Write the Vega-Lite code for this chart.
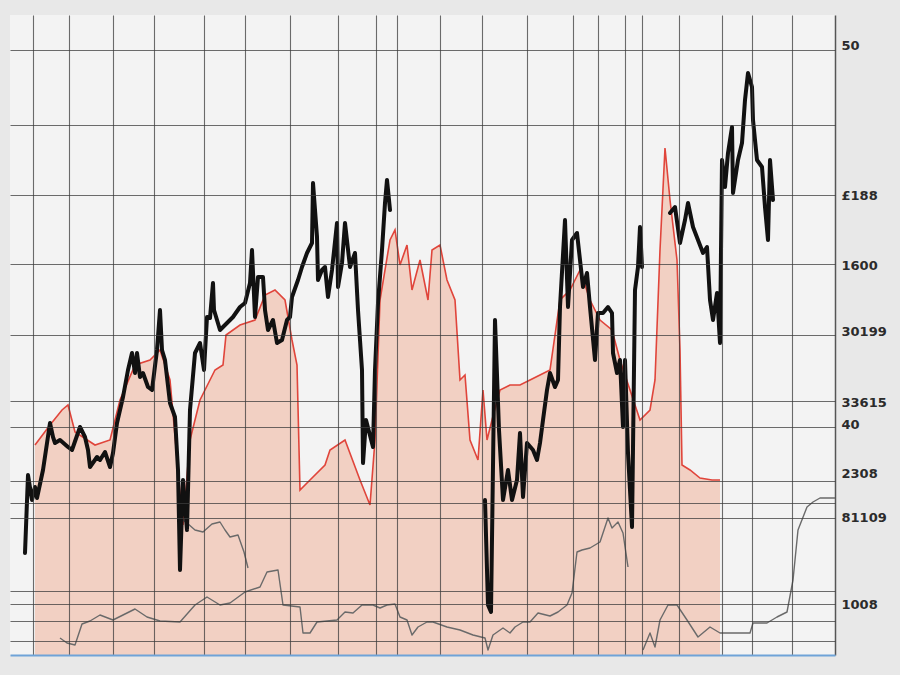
{
  "$schema": "https://vega.github.io/schema/vega-lite/v6.json",
  "width": 825,
  "height": 640,
  "autosize": "none",
  "padding": {"left": 10, "top": 15, "right": 65, "bottom": 20},
  "background": "#e8e8e8",
  "config": {"view": {"fill": "#f3f3f3", "stroke": null}},
  "datasets": {
    "red": [
      {"x": 25, "y": 210}, {"x": 40, "y": 230}, {"x": 52, "y": 245}, {"x": 58, "y": 250}, {"x": 65, "y": 223},
      {"x": 85, "y": 210}, {"x": 100, "y": 215}, {"x": 110, "y": 255}, {"x": 125, "y": 290}, {"x": 140, "y": 295},
      {"x": 150, "y": 305}, {"x": 160, "y": 275}, {"x": 168, "y": 185}, {"x": 173, "y": 130}, {"x": 180, "y": 215},
      {"x": 190, "y": 255}, {"x": 205, "y": 285}, {"x": 213, "y": 290}, {"x": 216, "y": 320}, {"x": 230, "y": 330},
      {"x": 245, "y": 335}, {"x": 255, "y": 360}, {"x": 265, "y": 365}, {"x": 275, "y": 355}, {"x": 282, "y": 315},
      {"x": 287, "y": 290}, {"x": 290, "y": 165}, {"x": 300, "y": 175}, {"x": 315, "y": 190}, {"x": 320, "y": 205},
      {"x": 335, "y": 215}, {"x": 350, "y": 175}, {"x": 360, "y": 150}, {"x": 365, "y": 215}, {"x": 370, "y": 355},
      {"x": 380, "y": 415}, {"x": 385, "y": 425}, {"x": 390, "y": 390}, {"x": 397, "y": 410}, {"x": 402, "y": 365},
      {"x": 410, "y": 395}, {"x": 418, "y": 355}, {"x": 422, "y": 405}, {"x": 430, "y": 410}, {"x": 437, "y": 375},
      {"x": 445, "y": 355}, {"x": 450, "y": 275}, {"x": 455, "y": 280}, {"x": 460, "y": 215}, {"x": 468, "y": 195},
      {"x": 473, "y": 265}, {"x": 477, "y": 215}, {"x": 482, "y": 235}, {"x": 490, "y": 265}, {"x": 500, "y": 270},
      {"x": 510, "y": 270}, {"x": 520, "y": 275}, {"x": 530, "y": 280}, {"x": 540, "y": 285}, {"x": 550, "y": 355},
      {"x": 560, "y": 365}, {"x": 570, "y": 385}, {"x": 580, "y": 355}, {"x": 590, "y": 335}, {"x": 602, "y": 325},
      {"x": 610, "y": 295}, {"x": 620, "y": 265}, {"x": 630, "y": 235}, {"x": 640, "y": 245}, {"x": 645, "y": 275},
      {"x": 650, "y": 405}, {"x": 655, "y": 507}, {"x": 660, "y": 455}, {"x": 667, "y": 395}, {"x": 670, "y": 305},
      {"x": 672, "y": 190}, {"x": 680, "y": 185}, {"x": 690, "y": 177}, {"x": 702, "y": 175}, {"x": 710, "y": 175}
    ],
    "gray": [
      {"seg": "a", "x": 50, "y": 17}, {"seg": "a", "x": 57, "y": 12}, {"seg": "a", "x": 65, "y": 10}, {"seg": "a", "x": 72, "y": 31},
      {"seg": "a", "x": 80, "y": 34}, {"seg": "a", "x": 90, "y": 40}, {"seg": "a", "x": 103, "y": 35}, {"seg": "a", "x": 117, "y": 42},
      {"seg": "a", "x": 125, "y": 46}, {"seg": "a", "x": 137, "y": 38}, {"seg": "a", "x": 150, "y": 34}, {"seg": "a", "x": 170, "y": 33},
      {"seg": "a", "x": 185, "y": 50}, {"seg": "a", "x": 197, "y": 58}, {"seg": "a", "x": 210, "y": 50}, {"seg": "a", "x": 220, "y": 52},
      {"seg": "a", "x": 235, "y": 63}, {"seg": "a", "x": 250, "y": 68}, {"seg": "a", "x": 257, "y": 83}, {"seg": "a", "x": 268, "y": 85},
      {"seg": "a", "x": 273, "y": 50}, {"seg": "a", "x": 290, "y": 48}, {"seg": "a", "x": 293, "y": 22}, {"seg": "a", "x": 300, "y": 22},
      {"seg": "a", "x": 307, "y": 33}, {"seg": "a", "x": 327, "y": 35}, {"seg": "a", "x": 335, "y": 43}, {"seg": "a", "x": 343, "y": 42},
      {"seg": "a", "x": 352, "y": 50}, {"seg": "a", "x": 363, "y": 50}, {"seg": "a", "x": 370, "y": 47}, {"seg": "a", "x": 377, "y": 50},
      {"seg": "a", "x": 385, "y": 51}, {"seg": "a", "x": 390, "y": 38}, {"seg": "a", "x": 397, "y": 35}, {"seg": "a", "x": 402, "y": 20},
      {"seg": "a", "x": 408, "y": 28}, {"seg": "a", "x": 417, "y": 33}, {"seg": "a", "x": 423, "y": 33}, {"seg": "a", "x": 437, "y": 28},
      {"seg": "a", "x": 450, "y": 25}, {"seg": "a", "x": 463, "y": 20}, {"seg": "a", "x": 475, "y": 17}, {"seg": "a", "x": 478, "y": 5},
      {"seg": "a", "x": 483, "y": 20}, {"seg": "a", "x": 493, "y": 27}, {"seg": "a", "x": 500, "y": 22}, {"seg": "a", "x": 505, "y": 28},
      {"seg": "a", "x": 513, "y": 33}, {"seg": "a", "x": 520, "y": 33}, {"seg": "a", "x": 528, "y": 42}, {"seg": "a", "x": 540, "y": 39},
      {"seg": "a", "x": 548, "y": 43}, {"seg": "a", "x": 557, "y": 50}, {"seg": "a", "x": 562, "y": 62}, {"seg": "a", "x": 567, "y": 103},
      {"seg": "a", "x": 572, "y": 105}, {"seg": "a", "x": 580, "y": 107}, {"seg": "a", "x": 590, "y": 113}, {"seg": "a", "x": 598, "y": 137},
      {"seg": "a", "x": 602, "y": 127}, {"seg": "a", "x": 608, "y": 133}, {"seg": "a", "x": 613, "y": 122}, {"seg": "a", "x": 618, "y": 88},
      {"seg": "b", "x": 173, "y": 135}, {"seg": "b", "x": 177, "y": 132}, {"seg": "b", "x": 185, "y": 125}, {"seg": "b", "x": 193, "y": 123},
      {"seg": "b", "x": 202, "y": 131}, {"seg": "b", "x": 210, "y": 133}, {"seg": "b", "x": 215, "y": 125}, {"seg": "b", "x": 220, "y": 118},
      {"seg": "b", "x": 228, "y": 120}, {"seg": "b", "x": 234, "y": 103}, {"seg": "b", "x": 238, "y": 87},
      {"seg": "c", "x": 633, "y": 5}, {"seg": "c", "x": 640, "y": 22}, {"seg": "c", "x": 645, "y": 8}, {"seg": "c", "x": 650, "y": 35},
      {"seg": "c", "x": 658, "y": 50}, {"seg": "c", "x": 667, "y": 50}, {"seg": "c", "x": 677, "y": 35}, {"seg": "c", "x": 688, "y": 18},
      {"seg": "c", "x": 700, "y": 28}, {"seg": "c", "x": 710, "y": 22}, {"seg": "c", "x": 730, "y": 22}, {"seg": "c", "x": 740, "y": 22},
      {"seg": "c", "x": 743, "y": 32}, {"seg": "c", "x": 757, "y": 32}, {"seg": "c", "x": 767, "y": 38}, {"seg": "c", "x": 777, "y": 43},
      {"seg": "c", "x": 783, "y": 75}, {"seg": "c", "x": 788, "y": 125}, {"seg": "c", "x": 797, "y": 148}, {"seg": "c", "x": 803, "y": 153},
      {"seg": "c", "x": 810, "y": 157}, {"seg": "c", "x": 825, "y": 157}
    ],
    "black": [
      {"seg": 1, "x": 15, "y": 102}, {"seg": 1, "x": 18, "y": 180}, {"seg": 1, "x": 22, "y": 155}, {"seg": 1, "x": 25, "y": 168},
      {"seg": 1, "x": 27, "y": 157}, {"seg": 1, "x": 33, "y": 185}, {"seg": 1, "x": 40, "y": 232}, {"seg": 1, "x": 43, "y": 218},
      {"seg": 1, "x": 45, "y": 212}, {"seg": 1, "x": 50, "y": 215}, {"seg": 1, "x": 58, "y": 208}, {"seg": 1, "x": 62, "y": 205},
      {"seg": 1, "x": 70, "y": 228}, {"seg": 1, "x": 75, "y": 218}, {"seg": 1, "x": 78, "y": 205}, {"seg": 1, "x": 80, "y": 188},
      {"seg": 1, "x": 87, "y": 198}, {"seg": 1, "x": 90, "y": 195}, {"seg": 1, "x": 95, "y": 203}, {"seg": 1, "x": 100, "y": 188},
      {"seg": 1, "x": 103, "y": 202}, {"seg": 1, "x": 107, "y": 232}, {"seg": 1, "x": 113, "y": 258}, {"seg": 1, "x": 118, "y": 285},
      {"seg": 1, "x": 122, "y": 302}, {"seg": 1, "x": 125, "y": 282}, {"seg": 1, "x": 127, "y": 302}, {"seg": 1, "x": 130, "y": 278},
      {"seg": 1, "x": 133, "y": 282}, {"seg": 1, "x": 138, "y": 268}, {"seg": 1, "x": 142, "y": 265}, {"seg": 1, "x": 147, "y": 305},
      {"seg": 1, "x": 150, "y": 345}, {"seg": 1, "x": 152, "y": 305}, {"seg": 1, "x": 155, "y": 295}, {"seg": 1, "x": 160, "y": 252},
      {"seg": 1, "x": 165, "y": 238}, {"seg": 1, "x": 168, "y": 185}, {"seg": 1, "x": 170, "y": 85}, {"seg": 1, "x": 173, "y": 175},
      {"seg": 1, "x": 177, "y": 125}, {"seg": 1, "x": 180, "y": 245}, {"seg": 1, "x": 185, "y": 302}, {"seg": 1, "x": 190, "y": 312},
      {"seg": 1, "x": 194, "y": 285}, {"seg": 1, "x": 197, "y": 338}, {"seg": 1, "x": 200, "y": 337}, {"seg": 1, "x": 203, "y": 372},
      {"seg": 1, "x": 204, "y": 345}, {"seg": 1, "x": 210, "y": 325}, {"seg": 1, "x": 217, "y": 332}, {"seg": 1, "x": 223, "y": 338},
      {"seg": 1, "x": 230, "y": 348}, {"seg": 1, "x": 235, "y": 352}, {"seg": 1, "x": 240, "y": 372}, {"seg": 1, "x": 242, "y": 405},
      {"seg": 1, "x": 245, "y": 338}, {"seg": 1, "x": 248, "y": 378}, {"seg": 1, "x": 253, "y": 378}, {"seg": 1, "x": 255, "y": 345},
      {"seg": 1, "x": 258, "y": 325}, {"seg": 1, "x": 263, "y": 335}, {"seg": 1, "x": 267, "y": 312}, {"seg": 1, "x": 272, "y": 315},
      {"seg": 1, "x": 277, "y": 335}, {"seg": 1, "x": 280, "y": 338}, {"seg": 1, "x": 282, "y": 358}, {"seg": 1, "x": 288, "y": 375},
      {"seg": 1, "x": 292, "y": 388}, {"seg": 1, "x": 297, "y": 402}, {"seg": 1, "x": 302, "y": 412}, {"seg": 1, "x": 303, "y": 472},
      {"seg": 1, "x": 307, "y": 418}, {"seg": 1, "x": 308, "y": 375}, {"seg": 1, "x": 312, "y": 385}, {"seg": 1, "x": 315, "y": 388},
      {"seg": 1, "x": 318, "y": 358}, {"seg": 1, "x": 322, "y": 385}, {"seg": 1, "x": 327, "y": 432}, {"seg": 1, "x": 328, "y": 368},
      {"seg": 1, "x": 332, "y": 392}, {"seg": 1, "x": 335, "y": 432}, {"seg": 1, "x": 340, "y": 388}, {"seg": 1, "x": 345, "y": 402},
      {"seg": 1, "x": 348, "y": 345}, {"seg": 1, "x": 352, "y": 285}, {"seg": 1, "x": 353, "y": 192}, {"seg": 1, "x": 356, "y": 235},
      {"seg": 1, "x": 363, "y": 208}, {"seg": 1, "x": 365, "y": 285}, {"seg": 1, "x": 368, "y": 352}, {"seg": 1, "x": 372, "y": 405},
      {"seg": 1, "x": 375, "y": 452}, {"seg": 1, "x": 377, "y": 475}, {"seg": 1, "x": 380, "y": 445},
      {"seg": 2, "x": 475, "y": 155}, {"seg": 2, "x": 478, "y": 50}, {"seg": 2, "x": 481, "y": 43}, {"seg": 2, "x": 485, "y": 335},
      {"seg": 2, "x": 489, "y": 225}, {"seg": 2, "x": 493, "y": 155}, {"seg": 2, "x": 498, "y": 185}, {"seg": 2, "x": 502, "y": 155},
      {"seg": 2, "x": 507, "y": 175}, {"seg": 2, "x": 510, "y": 222}, {"seg": 2, "x": 513, "y": 158}, {"seg": 2, "x": 517, "y": 212},
      {"seg": 2, "x": 523, "y": 205}, {"seg": 2, "x": 527, "y": 195}, {"seg": 2, "x": 530, "y": 212}, {"seg": 2, "x": 533, "y": 235},
      {"seg": 2, "x": 537, "y": 265}, {"seg": 2, "x": 540, "y": 282}, {"seg": 2, "x": 545, "y": 268}, {"seg": 2, "x": 548, "y": 275},
      {"seg": 2, "x": 550, "y": 348}, {"seg": 2, "x": 555, "y": 435}, {"seg": 2, "x": 558, "y": 348}, {"seg": 2, "x": 562, "y": 415},
      {"seg": 2, "x": 567, "y": 422}, {"seg": 2, "x": 570, "y": 395}, {"seg": 2, "x": 573, "y": 368}, {"seg": 2, "x": 577, "y": 382},
      {"seg": 2, "x": 580, "y": 348}, {"seg": 2, "x": 585, "y": 295}, {"seg": 2, "x": 588, "y": 342}, {"seg": 2, "x": 593, "y": 342},
      {"seg": 2, "x": 598, "y": 348}, {"seg": 2, "x": 602, "y": 342}, {"seg": 2, "x": 603, "y": 302}, {"seg": 2, "x": 607, "y": 282},
      {"seg": 2, "x": 610, "y": 295}, {"seg": 2, "x": 613, "y": 228}, {"seg": 2, "x": 615, "y": 295}, {"seg": 2, "x": 618, "y": 202},
      {"seg": 2, "x": 622, "y": 128}, {"seg": 2, "x": 625, "y": 365}, {"seg": 2, "x": 628, "y": 388}, {"seg": 2, "x": 630, "y": 428},
      {"seg": 2, "x": 632, "y": 388},
      {"seg": 3, "x": 660, "y": 442}, {"seg": 3, "x": 665, "y": 448}, {"seg": 3, "x": 670, "y": 412}, {"seg": 3, "x": 675, "y": 435},
      {"seg": 3, "x": 678, "y": 452}, {"seg": 3, "x": 683, "y": 428}, {"seg": 3, "x": 688, "y": 415}, {"seg": 3, "x": 693, "y": 402},
      {"seg": 3, "x": 697, "y": 408}, {"seg": 3, "x": 700, "y": 355}, {"seg": 3, "x": 703, "y": 335}, {"seg": 3, "x": 707, "y": 362},
      {"seg": 3, "x": 710, "y": 312}, {"seg": 3, "x": 712, "y": 495}, {"seg": 3, "x": 715, "y": 468}, {"seg": 3, "x": 718, "y": 502},
      {"seg": 3, "x": 722, "y": 528}, {"seg": 3, "x": 723, "y": 462}, {"seg": 3, "x": 728, "y": 495}, {"seg": 3, "x": 732, "y": 512},
      {"seg": 3, "x": 735, "y": 555}, {"seg": 3, "x": 738, "y": 582}, {"seg": 3, "x": 742, "y": 568}, {"seg": 3, "x": 743, "y": 535},
      {"seg": 3, "x": 747, "y": 495}, {"seg": 3, "x": 752, "y": 488}, {"seg": 3, "x": 755, "y": 448}, {"seg": 3, "x": 758, "y": 415},
      {"seg": 3, "x": 760, "y": 495}, {"seg": 3, "x": 762, "y": 468}, {"seg": 3, "x": 763, "y": 455}
    ]
  },
  "resolve": {"axis": {"y": "independent"}},
  "layer": [
    {
      "data": {"name": "red"},
      "mark": {"type": "area", "fill": "#f0b29a", "fillOpacity": 0.55, "line": {"color": "#e0453b", "strokeWidth": 1.6}},
      "encoding": {
        "x": {"field": "x", "type": "quantitative", "scale": {"domain": [0, 825], "nice": false, "zero": false},
          "axis": {"orient": "bottom", "values": [23, 40, 59, 79, 103, 126, 144, 169, 194, 214, 235, 256, 280, 302, 328, 348, 366, 377, 387, 409, 430, 452, 472, 497, 517, 538, 563, 572, 588, 608, 615, 623, 632, 658, 669, 688, 712, 722, 742, 762, 782, 803],
            "labels": false, "ticks": false, "title": null, "grid": true, "gridColor": "#3c3c3c", "gridOpacity": 0.75, "gridWidth": 1.1,
            "domain": true, "domainColor": "#6fa3d8", "domainWidth": 2, "zindex": 1}},
        "y": {"field": "y", "type": "quantitative", "scale": {"domain": [0, 640], "nice": false, "zero": true},
          "axis": {"orient": "left", "values": [605, 530, 460, 391, 320, 254, 228, 174, 152, 137, 64, 51, 34, 14],
            "labels": false, "ticks": false, "title": null, "domain": false, "grid": true, "gridColor": "#3c3c3c", "gridOpacity": 0.75, "gridWidth": 1.1, "zindex": 1}}
      }
    },
    {
      "data": {"name": "gray"},
      "mark": {"type": "line", "color": "#6a6a6a", "strokeWidth": 1.4, "strokeJoin": "round"},
      "encoding": {
        "x": {"field": "x", "type": "quantitative"},
        "y": {"field": "y", "type": "quantitative", "axis": null},
        "detail": {"field": "seg", "type": "nominal"}
      }
    },
    {
      "data": {"name": "black"},
      "mark": {"type": "line", "color": "#111111", "strokeWidth": 4, "strokeJoin": "round", "strokeCap": "round"},
      "encoding": {
        "x": {"field": "x", "type": "quantitative"},
        "y": {"field": "y", "type": "quantitative",
          "axis": {"orient": "right", "values": [610, 460, 390, 324, 253, 231, 182, 138, 51], "title": null, "grid": false,
            "ticks": false, "domain": true, "domainColor": "#555555", "domainWidth": 1.5, "labelPadding": 6,
            "labelFont": "DejaVu Sans", "labelFontSize": 13, "labelFontWeight": "bold", "labelColor": "#2b2b2b",
            "labelExpr": "datum.value == 610 ? '50' : datum.value == 460 ? '£188' : datum.value == 390 ? '1600' : datum.value == 324 ? '30199' : datum.value == 253 ? '33615' : datum.value == 231 ? '40' : datum.value == 182 ? '2308' : datum.value == 138 ? '81109' : datum.value == 51 ? '1008' : ''"}},
        "detail": {"field": "seg", "type": "nominal"}
      }
    }
  ]
}
